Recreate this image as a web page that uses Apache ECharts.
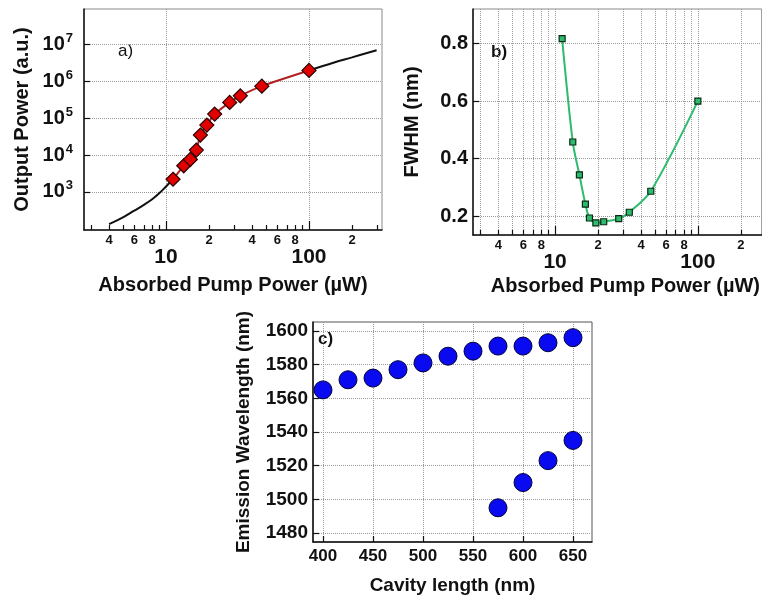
<!DOCTYPE html>
<html>
<head>
<meta charset="utf-8">
<script src="https://cdn.jsdelivr.net/npm/echarts@6/dist/echarts.min.js"></script>
<style>
html,body{margin:0;padding:0;background:#fff;}
#chart{width:762px;height:598px;}
</style>
</head>
<body>
<div id="chart"></div>
<script>
// ---- data ----
var pumpPower = [11.2, 13.3, 14.8, 16.3, 17.4, 19.3, 21.9, 27.9, 33.1, 46.8, 100];
var outputPower = [2200, 5100, 7600, 13600, 34700, 64700, 128000, 265000, 401000, 732000, 1950000];
var fitLowPower = [4, 5, 6, 7, 8, 9, 10, 11.2];
var fitLowOutput = [134, 205, 312, 445, 630, 930, 1400, 2200];
var fitHighPower = [100, 150, 200, 297];
var fitHighOutput = [1950000, 3200000, 4400000, 6900000];
var fwhm = [0.817, 0.458, 0.344, 0.242, 0.194, 0.177, 0.181, 0.192, 0.214, 0.287, 0.600];
var cavityUpper = [400, 425, 450, 475, 500, 525, 550, 575, 600, 625, 650];
var wavelengthUpper = [1565, 1571, 1572, 1577, 1581, 1585, 1588, 1591, 1591, 1593, 1596];
var cavityLower = [575, 600, 625, 650];
var wavelengthLower = [1495, 1510, 1523, 1535];
var logMinorTicks = [3, 4, 5, 6, 7, 8, 9, 20, 30, 40, 50, 60, 70, 80, 90, 200, 300];
var logMinorLabels = [4, 6, 8, 20, 40, 60, 80, 200];
var logDecades = [10, 100];
var outputTicks = [1e3, 1e4, 1e5, 1e6, 1e7];
var fwhmTicks = [0.2, 0.4, 0.6, 0.8];
var cavityTicks = [400, 450, 500, 550, 600, 650];
var wavelengthTicks = [1480, 1500, 1520, 1540, 1560, 1580, 1600];

function pairs(xs, ys) { return xs.map(function (x, i) { return [x, ys[i]]; }); }

var FONT = "'Liberation Sans', Arial, sans-serif";
var TXT = '#111';
var gridLine = { show: true, lineStyle: { color: '#9a9a9a', type: 'dotted', width: 1 } };
var axLine = { show: true, lineStyle: { color: '#111', width: 1.5 } };
var nameStyle = { fontFamily: FONT, fontWeight: 'bold', fontSize: 20, color: TXT };

function minorXAxis(grid, min, max, showSplit, name, gap, pad) {
  return {
    type: 'log', gridIndex: grid, position: 'bottom', min: min, max: max,
    axisLine: axLine,
    axisTick: { show: true, inside: true, length: 5, customValues: logMinorTicks, lineStyle: { color: '#111', width: 1.2 } },
    axisLabel: { customValues: logMinorLabels, margin: 4, fontFamily: FONT, fontWeight: 'bold', fontSize: 13, color: TXT,
      formatter: function (v) { return String(Math.round(v)).charAt(0); } },
    splitLine: showSplit ? gridLine : { show: false },
    name: name, nameLocation: 'middle', nameGap: gap, nameTextStyle: Object.assign({ padding: pad }, nameStyle)
  };
}
function decadeXAxis(grid, min, max) {
  return {
    type: 'log', gridIndex: grid, position: 'bottom', min: min, max: max,
    axisLine: { show: false },
    axisTick: { show: true, inside: true, length: 9, customValues: logDecades, lineStyle: { color: '#111', width: 1.2 } },
    axisLabel: { customValues: logDecades, margin: 17, fontFamily: FONT, fontWeight: 'bold', fontSize: 21, color: TXT,
      formatter: function (v) { return String(Math.round(v)); } },
    splitLine: gridLine
  };
}

var option = {
  animation: false,
  backgroundColor: '#fff',
  grid: [
    { left: 84, top: 9, width: 298, height: 221, show: true, borderColor: '#8a8a8a', borderWidth: 1 },
    { left: 473, top: 9, width: 290, height: 226, show: true, borderColor: '#8a8a8a', borderWidth: 1 },
    { left: 313, top: 322, width: 279, height: 220, show: true, borderColor: '#555', borderWidth: 1 }
  ],
  xAxis: [
    minorXAxis(0, 2.67, 324, false, 'Absorbed Pump Power (\u00b5W)', 45, [0, 0, 0, 0]),
    decadeXAxis(0, 2.67, 324),
    minorXAxis(1, 2.66, 280, true, 'Absorbed Pump Power (\u00b5W)', 41, [0, 0, 0, 16]),
    decadeXAxis(1, 2.66, 280),
    {
      type: 'value', gridIndex: 2, min: 390, max: 669,
      axisLine: axLine,
      axisTick: { show: true, inside: true, length: 6, customValues: cavityTicks, lineStyle: { color: '#111', width: 1.2 } },
      axisLabel: { customValues: cavityTicks, margin: 6, fontFamily: FONT, fontWeight: 'bold', fontSize: 17, color: TXT,
        formatter: function (v) { return String(Math.round(v)); } },
      splitLine: gridLine,
      name: 'Cavity length (nm)', nameLocation: 'middle', nameGap: 34,
      nameTextStyle: Object.assign({}, nameStyle, { fontSize: 19 })
    }
  ],
  yAxis: [
    {
      type: 'log', gridIndex: 0, min: 93, max: 9e7,
      axisLine: axLine,
      axisTick: { show: true, inside: true, length: 6, customValues: outputTicks, lineStyle: { color: '#111', width: 1.2 } },
      axisLabel: { customValues: outputTicks, margin: 11, fontFamily: FONT, fontWeight: 'bold', fontSize: 20, color: TXT,
        formatter: function (v) { return '10{s|' + Math.round(Math.log10(v)) + '}'; },
        rich: { s: { fontFamily: FONT, fontWeight: 'bold', fontSize: 13, color: TXT, verticalAlign: 'top', padding: [0, 0, 12, 1] } } },
      splitLine: gridLine,
      name: 'Output Power (a.u.)', nameLocation: 'middle', nameGap: 52, nameTextStyle: nameStyle
    },
    {
      type: 'value', gridIndex: 1, min: 0.135, max: 0.92,
      axisLine: axLine,
      axisTick: { show: true, inside: true, length: 6, customValues: fwhmTicks, lineStyle: { color: '#111', width: 1.2 } },
      axisLabel: { customValues: fwhmTicks, margin: 5, fontFamily: FONT, fontWeight: 'bold', fontSize: 20, color: TXT,
        formatter: function (v) { return v.toFixed(1); } },
      splitLine: gridLine,
      name: 'FWHM (nm)', nameLocation: 'middle', nameGap: 51, nameTextStyle: nameStyle
    },
    {
      type: 'value', gridIndex: 2, min: 1474.7, max: 1605.3,
      axisLine: axLine,
      axisTick: { show: true, inside: true, length: 6, customValues: wavelengthTicks, lineStyle: { color: '#111', width: 1.2 } },
      axisLabel: { customValues: wavelengthTicks, margin: 5, fontFamily: FONT, fontWeight: 'bold', fontSize: 19, color: TXT,
        formatter: function (v) { return String(Math.round(v)); } },
      splitLine: gridLine,
      name: 'Emission Wavelength (nm)', nameLocation: 'middle', nameGap: 60,
      nameTextStyle: Object.assign({}, nameStyle, { fontSize: 19 })
    }
  ],
  graphic: [
    { type: 'text', left: 118, top: 43, style: { text: 'a)', fontFamily: FONT, fontSize: 17, fill: TXT } },
    { type: 'text', left: 491, top: 44, style: { text: 'b)', fontFamily: FONT, fontWeight: 'bold', fontSize: 17, fill: TXT } },
    { type: 'text', left: 318, top: 331, style: { text: 'c)', fontFamily: FONT, fontWeight: 'bold', fontSize: 17, fill: TXT } }
  ],
  series: [
    { type: 'line', xAxisIndex: 0, yAxisIndex: 0, data: pairs(fitLowPower, fitLowOutput), smooth: 0.4, showSymbol: false,
      lineStyle: { color: '#111', width: 2 }, z: 2 },
    { type: 'line', xAxisIndex: 0, yAxisIndex: 0, data: pairs(fitHighPower, fitHighOutput), smooth: 0.4, showSymbol: false,
      lineStyle: { color: '#111', width: 2 }, z: 2 },
    { type: 'line', xAxisIndex: 0, yAxisIndex: 0, data: pairs(pumpPower, outputPower), smooth: 0.3,
      symbol: 'diamond', symbolSize: 14, showSymbol: true,
      lineStyle: { color: '#b02020', width: 2 },
      itemStyle: { color: '#e00000', borderColor: '#2a0000', borderWidth: 1.2 }, z: 3 },
    { type: 'line', xAxisIndex: 2, yAxisIndex: 1, data: pairs(pumpPower, fwhm), smooth: 0.3,
      symbol: 'rect', symbolSize: 6, showSymbol: true,
      lineStyle: { color: '#2dbb6e', width: 2 },
      itemStyle: { color: '#2dbb6e', borderColor: '#0a2a14', borderWidth: 1.2 }, z: 3 },
    { type: 'scatter', xAxisIndex: 4, yAxisIndex: 2, data: pairs(cavityUpper, wavelengthUpper), symbolSize: 18,
      itemStyle: { color: '#0a0af0', borderColor: '#00003a', borderWidth: 1, opacity: 1 } },
    { type: 'scatter', xAxisIndex: 4, yAxisIndex: 2, data: pairs(cavityLower, wavelengthLower), symbolSize: 18,
      itemStyle: { color: '#0a0af0', borderColor: '#00003a', borderWidth: 1, opacity: 1 } }
  ]
};
var chart = echarts.init(document.getElementById('chart'), null, { renderer: 'canvas' });
chart.setOption(option);
</script>
</body>
</html>
